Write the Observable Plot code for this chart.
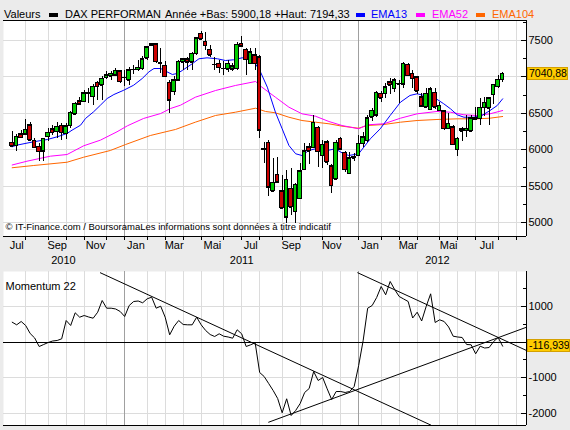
<!DOCTYPE html>
<html><head><meta charset="utf-8">
<script src="https://cdn.jsdelivr.net/npm/d3@7"></script>
<script src="https://cdn.jsdelivr.net/npm/@observablehq/plot@0.6"></script>
<style>
body{margin:0;background:#ebebeb;font-family:"Liberation Sans",Arial,sans-serif;}
#wrap{position:relative;width:570px;height:430px;overflow:hidden;background:#ebebeb;}
#wrap svg{position:absolute;left:0;}
.lg{position:absolute;white-space:nowrap;font-size:11px;line-height:13px;top:8px;}
.bar{position:absolute;width:9px;height:4px;top:13px;}
.box{position:absolute;left:527px;height:13px;background:#ffcc00;border:1px solid #d4a000;font-size:10.5px;line-height:11px;padding-left:1px;box-sizing:border-box;color:#000;white-space:nowrap;overflow:hidden;}
</style></head><body><div id="wrap"></div>
<script>
// ---- weekly candles (index 0 = week of 12 Jul 2010, index 109 = week of 13 Aug 2012)
const opens  = [6095,6054,6213,6209,6337,6122,6040,5979,6177,6278,6246,6328,6222,6328,6484,6666,6658,6775,6727,6919,6886,6988,7010,7023,7078,6985,6955,7095,7098,7115,7253,7435,7449,7190,7152,6923,6795,6955,7202,7239,7202,7317,7592,7486,7376,7170,7180,7115,7102,7102,7111,7455,7376,7180,7294,7271,6005,6095,5426,5655,5426,5073,5463,5151,5326,5728,6034,6030,6301,5920,6103,5773,5591,6150,5957,5669,5883,5920,6081,6126,6446,6470,6768,6768,6927,6837,6900,6896,7166,7043,6996,6721,6584,6552,6782,6538,6525,6287,6309,5999,6278,6259,6250,6430,6425,6576,6570,6754,6868,6964];
const highs  = [6254,6209,6268,6419,6370,6154,6085,6154,6291,6337,6370,6360,6360,6521,6648,6713,6817,6841,6896,6933,7001,7070,7078,7115,7092,7092,7125,7161,7221,7276,7422,7463,7459,7390,7207,6955,7010,7229,7257,7271,7339,7545,7624,7606,7431,7271,7225,7212,7225,7180,7468,7559,7394,7386,7386,7294,6103,6126,5875,5897,5646,5714,5738,5530,5806,6081,6081,6470,6320,6126,6126,5790,6126,6172,5975,5966,5950,6195,6240,6470,6570,6800,6800,6905,6974,6982,6951,7194,7185,7088,7010,6768,6837,6859,6837,6652,6538,6493,6332,6172,6309,6470,6470,6575,6707,6721,6721,6896,7019,7060];
const lows   = [6026,5971,6154,6200,6109,6017,5842,5842,6117,6200,6154,6130,6140,6291,6466,6611,6648,6635,6603,6680,6680,6968,6955,7015,6909,6864,6878,7033,7070,7092,7229,7427,7184,7047,6988,6497,6749,6933,7088,7088,7088,7294,7500,7363,7271,7088,7043,7019,7065,7074,7088,7408,7019,7166,7088,6158,5806,5361,5416,5550,5192,4982,5096,4982,5310,5714,5793,6012,5760,5738,5783,5394,5577,5989,5691,5655,5840,5905,6034,6095,6387,6446,6652,6707,6754,6790,6630,6841,7010,6837,6754,6584,6570,6538,6552,6530,6264,6275,6058,5900,6113,6172,6240,6395,6332,6460,6332,6617,6837,6927];
const closes = [6048,6177,6163,6273,6130,6026,5971,6150,6236,6236,6315,6236,6323,6507,6630,6621,6772,6770,6864,6864,6978,7023,7043,7084,6933,6990,7092,7100,7125,7239,7404,7455,7207,7195,7001,6680,6955,7207,7239,7202,7317,7532,7514,7431,7294,7165,7125,7111,7180,7143,7441,7422,7235,7339,7180,6264,6000,5485,5545,5554,5197,5587,5210,5518,5701,5979,5979,6370,5975,6067,5828,5508,6095,6003,5728,5883,5898,6081,6172,6433,6538,6782,6707,6859,6882,6951,6896,7180,7019,6974,6800,6598,6768,6827,6584,6607,6287,6356,6067,6150,6250,6287,6433,6410,6576,6644,6707,6891,6964,7040.88];

// ---- moving averages (week index, value)
const ema13Idx = [0,1,4.8,7.8,10,12.2,13.3,15.2,16.3,18.1,19.6,21.1,22.6,24.8,27,28.9,30.4,31.5,33,34.4,35.6,36.7,37.8,40,41.5,43.3,45.6,47.4,49.2,51.1,53.3,55.2,56.7,58.5,60,61.5,63,64.4,65.9,67.4,68.9,70,71.8,73.3,74.8,77,79.6,81.8,84,86.3,88.4,90,91.5,93.7,95.9,97.4,98.9,100.4,102.6,104.4,106.2,107.8,109];
const ema13Val = [6040,6062,6109,6140,6177,6223,6268,6337,6429,6521,6611,6703,6758,6817,6886,6978,7070,7115,7115,7070,7033,7047,7088,7180,7249,7262,7249,7225,7235,7262,7257,7065,6859,6515,6287,6058,5944,5920,5989,6012,6021,5989,6012,5957,5920,5944,6150,6287,6470,6653,6745,6768,6745,6721,6631,6562,6479,6446,6446,6470,6538,6607,6699];
const ema52Idx = [0,3.3,8.5,12.2,15.9,19.6,23.3,25.6,29.2,33,35.2,37.4,40.7,45.2,49.6,54.1,55.5,58.5,61.5,64.4,67.4,70.4,73.3,77,78.9,82.6,86.3,90,94.4,97.4,100.4,103.3,106.2,109];
const ema52Val = [5790,5842,5911,5934,6054,6131,6246,6328,6429,6497,6566,6611,6721,6813,6882,6937,6859,6721,6584,6493,6460,6387,6332,6287,6342,6356,6433,6493,6525,6515,6479,6470,6493,6538];
const ema104Idx = [0,4.8,12.2,15.9,21.8,25.2,30.7,34.4,36.3,40.7,45.2,49.6,54.1,56.3,58.5,61.5,64.4,67.4,70.4,73.3,77,78.9,82.6,86.3,90,94.4,98.9,103.3,106.2,109];
const ema104Val = [5752,5783,5828,5897,5989,6071,6195,6250,6278,6378,6470,6515,6570,6525,6507,6446,6401,6378,6356,6323,6295,6332,6346,6378,6401,6415,6424,6424,6433,6456];

// ---- Momentum 22 (one value per week)
const momentum = [553,480,573,461,237,112,-126,-70,-14,28,42,89,600,461,816,693,740,698,665,832,1159,944,944,922,852,712,1019,1131,1145,1095,1207,1251,944,1000,693,201,441,600,489,480,480,693,480,321,209,154,229,162,140,106,341,229,-126,-78,-22,-852,-964,-1159,-1355,-1578,-1977,-1586,-2053,-1913,-1718,-1410,-1299,-824,-1075,-992,-1307,-1606,-1383,-1383,-1410,-1383,-1243,-656,42,944,1019,1243,1550,1318,1690,1466,1271,1201,1131,670,832,587,992,1346,545,620,573,419,162,140,126,-70,-78,-330,-117,-168,-154,14,126,-116.939];
// trend lines drawn on the momentum panel (week index, value)
const trendDown1 = [{i:19.6, v:1933}, {i:93, v:-2318}];
const trendDown2 = [{i:76.8, v:1933}, {i:114.3, v:-237}];
const trendUp    = [{i:57.0, v:-2240}, {i:114.3, v:413}];

// ---- axes
const monthStarts = [3,8,12,16,21,25,30,34,38,42,47,51,55,60,64,69,73,77,82,86,90,95,99,103,108,112];
const yearStarts = [25,77];
const monthLabels = ["Jul","Sep","Nov","Jan","Mar","Mai","Jul","Sep","Nov","Jan","Mar","Mai","Jul"];
const monthLabelPos = [1,10,18.5,27.5,36,44.5,53,62,71,79.5,88,97,105.5];
const yearLabels = ["2010","2011","2012"];
const yearLabelPos = [11.4,51,94.5];
const priceGrid = [5000,5500,6000,6500,7000,7500];
const priceLabels = [5000,5500,6000,6500,7500];   // 7000 sits under the last-value box
const priceMinor = [5250,5750,6250,6750,7250,7750];
const momGrid = [-2000,-1000,1000];
const momMajor = [-2000,-1000,0,1000];
const momLabels = [-2000,-1000,1000];              // 0 sits under the last-value box
const momMinor = [-1500,-500,500,1500];
const lastClose = 7040.88, lastMomentum = -116.939;

const X_DOMAIN = [-1.93, 114.3];
const PRICE_DOMAIN = [4807.7, 7774.7];
const MOM_DOMAIN = [-2332, 1969];
const FONT = '"Liberation Sans", Arial, sans-serif';

const candles = opens.map((o, i) => ({i, open: o, high: highs[i], low: lows[i], close: closes[i]}));
const toPts = (I, V) => I.map((x, k) => ({i: x, v: V[k]}));
const ema13 = toPts(ema13Idx, ema13Val), ema52 = toPts(ema52Idx, ema52Val), ema104 = toPts(ema104Idx, ema104Val);
const momData = momentum.map((v, i) => ({i, v}));
const mLab = monthLabels.map((t, k) => ({t, p: monthLabelPos[k]}));
const yLab = yearLabels.map((t, k) => ({t, p: yearLabelPos[k]}));
const crisp = {shapeRendering: "crispEdges"};

const topChart = Plot.plot({
  width: 570, height: 268, marginTop: 20, marginBottom: 32, marginLeft: 3, marginRight: 44,
  style: {background: "transparent", fontFamily: FONT, fontSize: "11px", color: "#000"},
  x: {domain: X_DOMAIN, axis: null},
  y: {domain: PRICE_DOMAIN, axis: null},
  marks: [
    Plot.frame({fill: "white", stroke: "none"}),
    Plot.ruleY(priceGrid, {stroke: "#dcdcdc", ...crisp}),
    Plot.ruleX(monthStarts, {stroke: "#dcdcdc", ...crisp}),
    Plot.ruleX(yearStarts, {stroke: "#a0a0a0", ...crisp}),
    Plot.line(ema104, {x: "i", y: "v", stroke: "#ff6600", strokeWidth: 1}),
    Plot.line(ema52, {x: "i", y: "v", stroke: "#ff00ff", strokeWidth: 1}),
    Plot.line(ema13, {x: "i", y: "v", stroke: "#0000ff", strokeWidth: 1}),
    Plot.ruleX(candles, {x: "i", y1: "low", y2: "high", stroke: "#000", ...crisp}),
    Plot.rect(candles, {x1: d => d.i - 0.38, x2: d => d.i + 0.38, y1: "open", y2: "close",
      fill: d => d.close >= d.open ? "#00cc00" : "#cc0000", stroke: "#000", ...crisp}),
    Plot.ruleY(candles, {y: "open", x1: d => d.i - 0.38, x2: d => d.i + 0.38, stroke: "#000", ...crisp}),
    Plot.ruleY(candles, {y: "close", x1: d => d.i - 0.38, x2: d => d.i + 0.38, stroke: "#000", ...crisp}),
    Plot.text(["© IT-Finance.com / BoursoramaLes informations sont données à titre indicatif"],
      {frameAnchor: "bottom-left", dx: 2, dy: -7, fontSize: 9.5, fill: "#000"}),
    Plot.ruleY([PRICE_DOMAIN[0]], {stroke: "#000", ...crisp}),
    Plot.ruleY([PRICE_DOMAIN[1]], {stroke: "#000", ...crisp}),
    Plot.ruleX([X_DOMAIN[1]], {stroke: "#000", ...crisp}),
    Plot.axisX({anchor: "bottom", ticks: monthStarts, tickSize: 4, tickFormat: () => "", label: null, ...crisp}),
    Plot.text(mLab, {x: "p", text: "t", frameAnchor: "bottom", dy: 12, fontSize: 11, fill: "#000"}),
    Plot.text(yLab, {x: "p", text: "t", frameAnchor: "bottom", dy: 27, fontSize: 11, fill: "#000"}),
    Plot.axisY({anchor: "right", ticks: priceMinor, tickSize: 4, dx: -4, tickFormat: () => "", label: null, ...crisp}),
    Plot.axisY({anchor: "right", ticks: priceGrid, tickSize: 6, dx: -6, tickFormat: () => "", label: null, ...crisp}),
    Plot.axisY({anchor: "right", ticks: priceLabels, tickSize: 0, tickPadding: 2, tickFormat: d => String(d), label: null, fontSize: 11, fill: "#000"})
  ]
});

const momChart = Plot.plot({
  width: 570, height: 162, marginTop: 3, marginBottom: 5, marginLeft: 3, marginRight: 44,
  style: {background: "transparent", fontFamily: FONT, fontSize: "11px", color: "#000"},
  x: {domain: X_DOMAIN, axis: null},
  y: {domain: MOM_DOMAIN, axis: null},
  marks: [
    Plot.frame({fill: "white", stroke: "none"}),
    Plot.ruleY(momGrid, {stroke: "#dcdcdc", ...crisp}),
    Plot.ruleX(monthStarts, {stroke: "#dcdcdc", ...crisp}),
    Plot.ruleX(yearStarts, {stroke: "#a0a0a0", ...crisp}),
    Plot.ruleY([0], {stroke: "#000", ...crisp}),
    Plot.line(trendDown1, {x: "i", y: "v", stroke: "#000", strokeWidth: 1, clip: true}),
    Plot.line(trendDown2, {x: "i", y: "v", stroke: "#000", strokeWidth: 1, clip: true}),
    Plot.line(trendUp, {x: "i", y: "v", stroke: "#000", strokeWidth: 1, clip: true}),
    Plot.line(momData, {x: "i", y: "v", stroke: "#000", strokeWidth: 1}),
    Plot.ruleY([MOM_DOMAIN[0]], {stroke: "#000", ...crisp}),
    Plot.ruleX([X_DOMAIN[1]], {stroke: "#000", ...crisp}),
    Plot.axisY({anchor: "right", ticks: momMinor, tickSize: 4, dx: -4, tickFormat: () => "", label: null, ...crisp}),
    Plot.axisY({anchor: "right", ticks: momMajor, tickSize: 6, dx: -6, tickFormat: () => "", label: null, ...crisp}),
    Plot.axisY({anchor: "right", ticks: momLabels, tickSize: 0, tickPadding: 2, tickFormat: d => String(d), label: null, fontSize: 11, fill: "#000"}),
    Plot.text(["Momentum 22"], {frameAnchor: "top-left", dx: 2, dy: 11, fontSize: 11, fill: "#000"})
  ]
});

const wrap = document.getElementById("wrap");
topChart.style.top = "0px";
momChart.style.top = "268px";
wrap.appendChild(topChart);
wrap.appendChild(momChart);

// legend row
const legend = [
  {t: "Valeurs", x: 4, c: "#000"},
  {bar: "#000", x: 49},
  {t: "DAX PERFORMAN", x: 65, c: "#000"},
  {t: "Année +Bas: 5900,18 +Haut: 7194,33", x: 165, c: "#000"},
  {bar: "#0000ff", x: 356},
  {t: "EMA13", x: 371, c: "#0000ff"},
  {bar: "#ff00ff", x: 416},
  {t: "EMA52", x: 432, c: "#ff00ff"},
  {bar: "#ff6600", x: 476},
  {t: "EMA104", x: 492, c: "#ff6600"}
];
for (const l of legend) {
  const el = document.createElement("div");
  if (l.bar) { el.className = "bar"; el.style.background = l.bar; }
  else { el.className = "lg"; el.textContent = l.t; el.style.color = l.c; }
  el.style.left = l.x + "px";
  wrap.appendChild(el);
}
// last value boxes
function box(text, y, w) {
  const el = document.createElement("div");
  el.className = "box"; el.textContent = text;
  el.style.top = Math.round(y - 6.5) + "px";
  el.style.width = w + "px";
  wrap.appendChild(el);
}
box(String(lastClose).replace(".", ","), topChart.scale("y").apply(lastClose), 41);
box(String(lastMomentum).replace(".", ","), 268 + momChart.scale("y").apply(lastMomentum), 43);
</script></body></html>
